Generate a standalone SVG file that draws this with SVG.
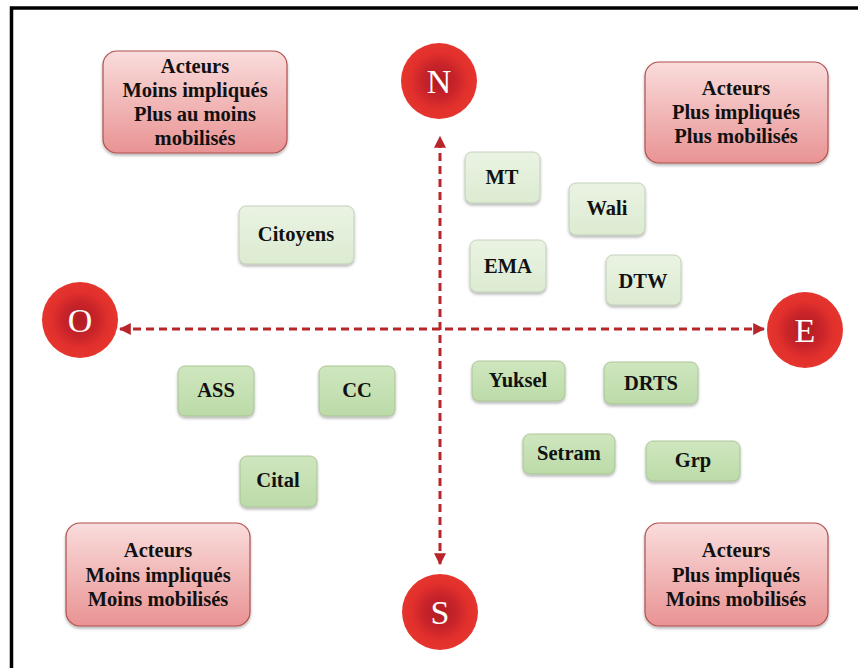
<svg xmlns="http://www.w3.org/2000/svg" width="858" height="668" viewBox="0 0 858 668">
<style>
text{font-family:'Liberation Serif','Times New Roman',Times,serif}
.lbl{font-weight:bold;font-size:20.5px;fill:#111;text-anchor:middle}
.cir{font-size:34px;fill:#fff;text-anchor:middle}
.pink{fill:url(#gPink);stroke:#B0504E;stroke-width:1.2}
.lg{fill:url(#gLight);stroke:#B9C9AE;stroke-width:0.8}
.dg{fill:url(#gDark);stroke:#9FBE8C;stroke-width:0.8}
.axis{stroke:#B8262A;stroke-width:3;stroke-dasharray:8 5;fill:none}
</style>
<defs>
<linearGradient id="gPink" x1="0" y1="0" x2="0" y2="1">
<stop offset="0" stop-color="#FADCDC"/><stop offset="1" stop-color="#E99393"/>
</linearGradient>
<linearGradient id="gLight" x1="0" y1="0" x2="0" y2="1">
<stop offset="0" stop-color="#EAF3E3"/><stop offset="1" stop-color="#DCEBD1"/>
</linearGradient>
<linearGradient id="gDark" x1="0" y1="0" x2="0" y2="1">
<stop offset="0" stop-color="#CFE6BF"/><stop offset="1" stop-color="#BCDBA8"/>
</linearGradient>
<radialGradient id="gRed" cx="0.5" cy="0.5" r="0.5">
<stop offset="0" stop-color="#B01C22"/><stop offset="0.45" stop-color="#C8242A"/><stop offset="0.75" stop-color="#E2302C"/><stop offset="1" stop-color="#E5352E"/>
</radialGradient>
<filter id="sh" x="-10%" y="-10%" width="120%" height="130%">
<feDropShadow dx="0" dy="2" stdDeviation="1.5" flood-color="#000" flood-opacity="0.3"/>
</filter>
<marker id="ah" viewBox="0 0 10 10" refX="9" refY="5" markerWidth="4" markerHeight="4" orient="auto-start-reverse" markerUnits="strokeWidth">
<path d="M0,0 L10,5 L0,10 z" fill="#B8262A"/>
</marker>
</defs>
<rect x="11.5" y="8" width="860" height="680" fill="#fff" stroke="#000" stroke-width="3.5"/>
<g id="connectors">
<line class="axis" x1="440" y1="564" x2="440" y2="137" marker-start="url(#ah)" marker-end="url(#ah)"/>
<line class="axis" x1="120" y1="329" x2="764" y2="329" marker-start="url(#ah)" marker-end="url(#ah)"/>
</g>
<g id="N"><circle cx="439" cy="81" r="38" fill="url(#gRed)"/><text class="cir" x="439" y="93">N</text></g>
<g id="O"><circle cx="80" cy="320" r="38" fill="url(#gRed)"/><text class="cir" x="80" y="332">O</text></g>
<g id="E"><circle cx="805" cy="330" r="38" fill="url(#gRed)"/><text class="cir" x="805" y="342">E</text></g>
<g id="S"><circle cx="440" cy="612" r="38" fill="url(#gRed)"/><text class="cir" x="440" y="624">S</text></g>
<g id="q-no"><rect class="pink" x="103" y="51" width="184" height="102" rx="14" filter="url(#sh)"/>
<text class="lbl" x="195" y="73">Acteurs</text><text class="lbl" x="195" y="97">Moins impliqués</text><text class="lbl" x="195" y="121">Plus au moins</text><text class="lbl" x="195" y="145">mobilisés</text></g>
<g id="q-ne"><rect class="pink" x="645" y="62" width="183" height="101" rx="14" filter="url(#sh)"/>
<text class="lbl" x="736" y="95">Acteurs</text><text class="lbl" x="736" y="119">Plus impliqués</text><text class="lbl" x="736" y="143">Plus mobilisés</text></g>
<g id="q-so"><rect class="pink" x="66" y="523" width="184" height="103" rx="14" filter="url(#sh)"/>
<text class="lbl" x="158" y="557">Acteurs</text><text class="lbl" x="158" y="582">Moins impliqués</text><text class="lbl" x="158" y="606">Moins mobilisés</text></g>
<g id="q-se"><rect class="pink" x="645" y="523" width="183" height="103" rx="14" filter="url(#sh)"/>
<text class="lbl" x="736" y="557">Acteurs</text><text class="lbl" x="736" y="582">Plus impliqués</text><text class="lbl" x="736" y="606">Moins mobilisés</text></g>
<g id="citoyens"><rect class="lg" x="239" y="206" width="115" height="58" rx="7" filter="url(#sh)"/><text class="lbl" x="296" y="241">Citoyens</text></g>
<g id="mt"><rect class="lg" x="465" y="152" width="75" height="51" rx="7" filter="url(#sh)"/><text class="lbl" x="502" y="184">MT</text></g>
<g id="wali"><rect class="lg" x="569" y="183" width="76" height="52" rx="7" filter="url(#sh)"/><text class="lbl" x="607" y="215">Wali</text></g>
<g id="ema"><rect class="lg" x="470" y="240" width="76" height="52" rx="7" filter="url(#sh)"/><text class="lbl" x="508" y="273">EMA</text></g>
<g id="dtw"><rect class="lg" x="606" y="255" width="75" height="50" rx="7" filter="url(#sh)"/><text class="lbl" x="643" y="288">DTW</text></g>
<g id="ass"><rect class="dg" x="178" y="366" width="76" height="50" rx="7" filter="url(#sh)"/><text class="lbl" x="216" y="397">ASS</text></g>
<g id="cc"><rect class="dg" x="319" y="366" width="76" height="50" rx="7" filter="url(#sh)"/><text class="lbl" x="357" y="397">CC</text></g>
<g id="cital"><rect class="dg" x="240" y="456" width="77" height="51" rx="7" filter="url(#sh)"/><text class="lbl" x="278" y="487">Cital</text></g>
<g id="yuksel"><rect class="dg" x="472" y="361" width="93" height="40" rx="7" filter="url(#sh)"/><text class="lbl" x="518" y="387">Yuksel</text></g>
<g id="drts"><rect class="dg" x="604" y="362" width="94" height="42" rx="7" filter="url(#sh)"/><text class="lbl" x="651" y="390">DRTS</text></g>
<g id="setram"><rect class="dg" x="523" y="434" width="92" height="40" rx="7" filter="url(#sh)"/><text class="lbl" x="569" y="460">Setram</text></g>
<g id="grp"><rect class="dg" x="646" y="441" width="94" height="40" rx="7" filter="url(#sh)"/><text class="lbl" x="693" y="467">Grp</text></g>
</svg>
